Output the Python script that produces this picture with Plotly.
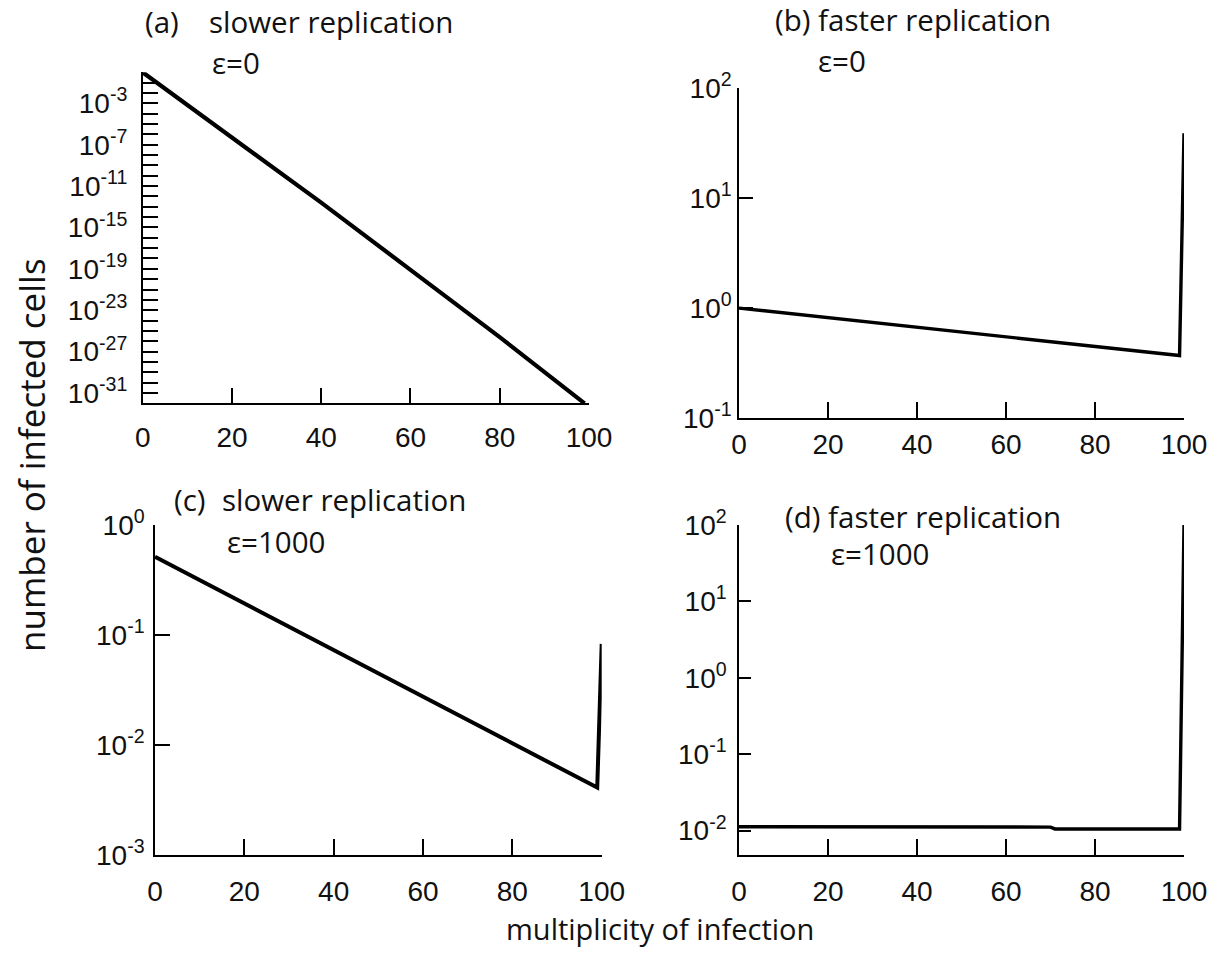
import plotly.graph_objects as go

# ---------------- data ----------------
moi_a = [0, 20, 40, 60, 80, 99]
cells_a = [1.0, 5e-7, 2.5e-13, 8e-20, 2.5e-26, 1e-32]

moi_b = [0, 20, 40, 60, 80, 99, 100]
cells_b = [1.0, 0.82, 0.67, 0.55, 0.45, 0.37, 39]

moi_c = [0, 20, 40, 60, 80, 99, 100]
cells_c = [0.515, 0.194, 0.073, 0.0275, 0.0105, 0.0041, 0.083]

moi_d = [0, 20, 40, 60, 70, 71, 80, 99, 100]
cells_d = [0.0112, 0.0112, 0.0112, 0.0111, 0.0111, 0.0105, 0.0105, 0.0105, 100]

x_ticks = [0, 20, 40, 60, 80, 100]
decades_a = list(range(0, -33, -1))
labeled_a = [-3, -7, -11, -15, -19, -23, -27, -31]
decades_b = [-1, 0, 1, 2]
decades_c = [-3, -2, -1, 0]
decades_d = [-2, -1, 0, 1, 2]

titles = ["(a)", "slower replication", "(b) faster replication",
          "(c)", "slower replication", "(d) faster replication"]
eps_labels = ["ε=0", "ε=0", "ε=1000", "ε=1000"]
y_title = "number of infected cells"
x_title = "multiplicity of infection"

# ---------------- layout helpers ----------------
W, H = 1222, 974


def px_x(v):
    return v / W


def px_y(v):
    return 1 - v / H


def sup(k):
    return "10<sup>%d</sup>" % k


tick_font = dict(family="Liberation Sans, Arial, sans-serif", size=28, color="#111111")
text_font = dict(family="Open Sans, sans-serif", size=29.5, color="#111111")

axis_common = dict(showline=True, linecolor="black", linewidth=1.5,
                   ticks="inside", tickcolor="black", tickwidth=1.5,
                   showgrid=False, zeroline=False, mirror=False,
                   tickfont=tick_font, automargin=False)

fig = go.Figure()

series = [(moi_a, cells_a, 4.2), (moi_b, cells_b, 3.4), (moi_c, cells_c, 4), (moi_d, cells_d, 3.4)]
for i, (xs, ys, lw) in enumerate(series, start=1):
    fig.add_trace(go.Scatter(x=xs, y=ys, mode="lines",
                             line=dict(color="black", width=lw),
                             xaxis="x" if i == 1 else "x%d" % i,
                             yaxis="y" if i == 1 else "y%d" % i,
                             showlegend=False, hoverinfo="skip"))

# panel pixel boxes: (left, right, top, bottom)
boxes = {
    1: (142.7, 589.0, 72.3, 403.3),
    2: (739.0, 1184.0, 88.3, 418.0),
    3: (155.0, 601.7, 525.0, 855.0),
    4: (739.0, 1184.0, 525.0, 855.0),
}
yranges = {1: [-32, 0], 2: [-1, 2], 3: [-3, 0], 4: [-2.32, 2]}
ydec = {
    1: labeled_a,
    2: decades_b,
    3: decades_c,
    4: decades_d,
}
yticklen = {1: 16, 2: 14, 3: 15, 4: 12}
ystandoff = {1: 8, 2: 0, 3: 3, 4: 5}
xstandoff = {1: 8, 2: 1, 3: 11, 4: 11}

layout_axes = {}
for i in range(1, 5):
    l, r, t, b = boxes[i]
    xname = "xaxis" if i == 1 else "xaxis%d" % i
    yname = "yaxis" if i == 1 else "yaxis%d" % i
    layout_axes[xname] = dict(axis_common, domain=[px_x(l), px_x(r)], range=[0, 100],
                              anchor="y" if i == 1 else "y%d" % i,
                              tickvals=x_ticks, ticktext=[str(v) for v in x_ticks],
                              ticklen=16, ticklabelstandoff=xstandoff[i])
    decs = ydec[i]
    ydict = dict(axis_common, domain=[px_y(b), px_y(t)], type="log",
                 range=yranges[i],
                 anchor="x" if i == 1 else "x%d" % i,
                 tickvals=[10.0 ** k for k in decs], ticktext=[sup(k) for k in decs],
                 ticklen=yticklen[i], ticklabelstandoff=ystandoff[i])
    if i == 1:
        ydict["minor"] = dict(tickvals=[10.0 ** k for k in decades_a if k not in labeled_a],
                              ticks="inside", ticklen=16, tickwidth=1.5,
                              tickcolor="black", showgrid=False)
    layout_axes[yname] = ydict

fig.update_layout(**layout_axes)

ann = []
title_pos = [(143, 22), (207, 22), (773, 20), (172, 500), (220, 500), (783, 516)]
for txt, (xp, yp) in zip(titles, title_pos):
    ann.append(dict(text=txt, x=px_x(xp), y=px_y(yp), xref="paper", yref="paper",
                    xanchor="left", yanchor="middle", showarrow=False, font=text_font))
eps_pos = [(210, 63), (816, 60), (225, 541), (829, 553)]
for txt, (xp, yp) in zip(eps_labels, eps_pos):
    ann.append(dict(text=txt, x=px_x(xp), y=px_y(yp), xref="paper", yref="paper",
                    xanchor="left", yanchor="middle", showarrow=False, font=text_font))
ann.append(dict(text=y_title, x=px_x(32), y=px_y(455), xref="paper", yref="paper",
                xanchor="center", yanchor="middle", textangle=-90, showarrow=False,
                font=dict(text_font, size=35)))
ann.append(dict(text=x_title, x=px_x(660), y=px_y(928), xref="paper", yref="paper",
                xanchor="center", yanchor="middle", showarrow=False,
                font=dict(text_font, size=29)))

fig.update_layout(width=W, height=H, margin=dict(l=0, r=0, t=0, b=0),
                  plot_bgcolor="white", paper_bgcolor="white",
                  showlegend=False, annotations=ann)

fig.write_html("out.html")
